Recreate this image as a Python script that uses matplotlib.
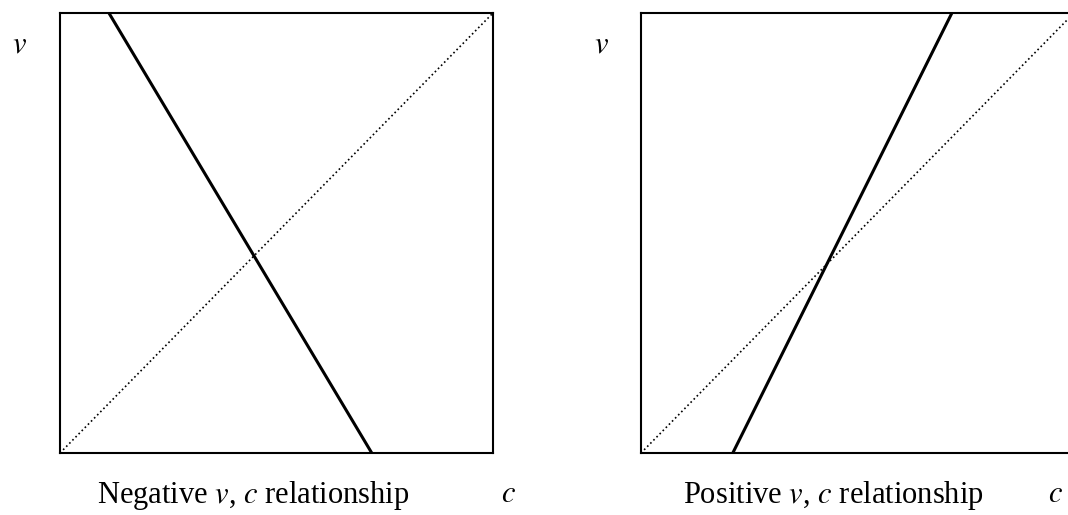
import matplotlib
matplotlib.use('Agg')
import matplotlib.pyplot as plt

plt.rcParams['font.family'] = ['Liberation Serif', 'DejaVu Serif']
plt.rcParams['mathtext.fontset'] = 'stix'

# line end points in unit box coordinates
neg_x = [0.113, 0.720]
neg_y = [1.0, 0.0]
pos_x = [0.212, 0.718]
pos_y = [0.0, 1.0]
diag_x = [0.0, 1.0]
diag_y = [0.0, 1.0]

captions = ['Negative $v$, $c$ relationship', 'Positive $v$, $c$ relationship']

W, H = 1068, 515
fig = plt.figure(figsize=(W / 100, H / 100), dpi=100)

ax1 = fig.add_axes([60 / W, 62 / H, 433 / W, 440 / H])
ax2 = fig.add_axes([641 / W, 62 / H, 433 / W, 440 / H])

for ax, (lx, ly) in zip([ax1, ax2], [(neg_x, neg_y), (pos_x, pos_y)]):
    ax.plot(diag_x, diag_y, color='black', linestyle=':', linewidth=1.2)
    ax.plot(lx, ly, color='black', linewidth=2.2, solid_capstyle='butt')
    ax.set_xlim(0, 1)
    ax.set_ylim(0, 1)
    ax.set_xticks([])
    ax.set_yticks([])
    for s in ax.spines.values():
        s.set_linewidth(1.5)

fs = 22
# y-axis labels
fig.text(20 / W, 1 - 45 / H, '$v$', fontsize=fs, ha='center', va='center')
fig.text(601 / W, 1 - 45 / H, '$v$', fontsize=fs, ha='center', va='center')

# captions
fig.text(97 / W, 1 - 495 / H, captions[0], fontsize=fs, ha='left', va='center')
fig.text(508 / W, 1 - 495 / H, '$c$', fontsize=fs, ha='center', va='center')
fig.text(683 / W, 1 - 495 / H, captions[1], fontsize=fs, ha='left', va='center')
fig.text(1055 / W, 1 - 495 / H, '$c$', fontsize=fs, ha='center', va='center')

fig.savefig('out.png', dpi=100)
